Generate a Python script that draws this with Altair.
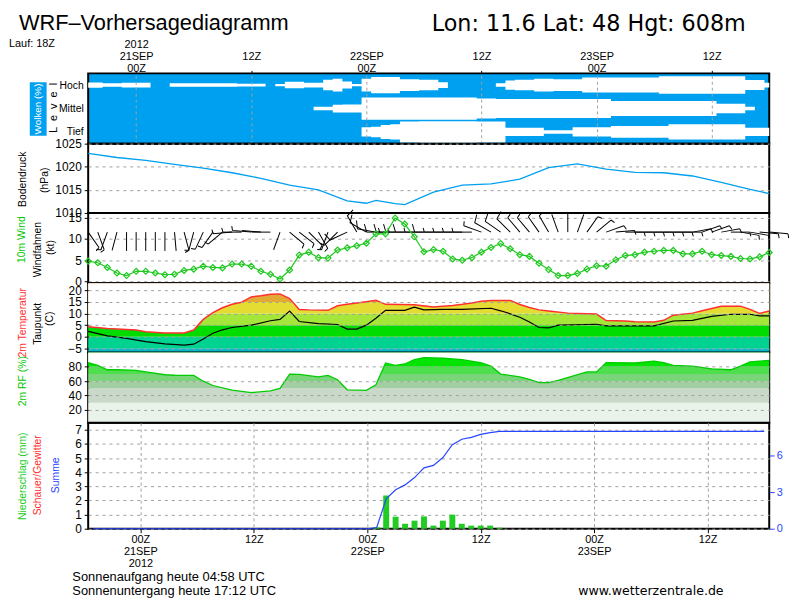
import altair as alt
import pandas as pd

# ---------------- data (hours relative to 21 SEP 2012 00Z) ----------------
HOURS = list(range(-5, 67))

CLOUD_LEVELS = ["Hoch", "Mittel", "Tief"]
CLOUD_CENTERS = [2.5, 1.5, 0.5]
CLOUD_HIGH = [0.22, 0.22, 0.15, 0.15, 0.2, 0.2, 0.2, 0, 0, 0.15, 0.15, 0.15,
              0.15, 0.15, 0.15, 0.15, 0.12, 0.12, 0.12, 0, 0.1, 0.28, 0.28, 0.2,
              0.2, 0.45, 0.55, 0.3, 0.1, 0.55, 0.7, 0.7, 0.7, 0.5, 0.5, 0.45,
              0.45, 0.25, 0, 0, 0, 0, 0, 0.15, 0.4, 0.45, 0.45, 0.55,
              0.55, 0.5, 0.5, 0.5, 0.64, 0.64, 0.64, 0.64, 0.64, 0.64, 0.64, 0.64,
              0.75, 0.75, 0.75, 0.75, 0.75, 0.75, 0.75, 0.75, 0.75, 0.43, 0.43, 0.2]
CLOUD_MID = [0, 0, 0, 0, 0, 0, 0, 0, 0, 0, 0, 0,
             0, 0, 0, 0, 0, 0, 0, 0, 0, 0, 0, 0,
             0.15, 0.15, 0.33, 0.35, 0.35, 0.95, 0.95, 0.95, 0.95, 0.95, 0.95, 0.95,
             0.95, 0.95, 0.95, 0.95, 0.95, 0.85, 0.85, 0.82, 0.82, 0.82, 0.82, 0.82,
             0.82, 0.82, 0.82, 0.82, 0.82, 0.82, 0.82, 0.65, 0.65, 0.65, 0.65, 0.65,
             0.65, 0.65, 0.65, 0.65, 0.65, 0.65, 0.4, 0.4, 0.4, 0.15, 0, 0]
CLOUD_LOW = [0, 0, 0, 0, 0, 0, 0, 0, 0, 0, 0, 0,
             0, 0, 0, 0, 0, 0, 0, 0, 0, 0, 0, 0,
             0, 0, 0, 0, 0, 0.4, 0.45, 0.6, 0.65, 0.9, 0.9, 0.92,
             0.92, 0.92, 0.92, 0.92, 0.92, 0.9, 0.9, 0.9, 0.35, 0.35, 0.35, 0.35,
             0.15, 0.15, 0.15, 0.4, 0.4, 0.4, 0.4, 0.5, 0.5, 0.5, 0.5, 0.5,
             0.5, 0.65, 0.65, 0.65, 0.65, 0.65, 0.65, 0.65, 0.65, 0.35, 0.35, 0.35]

PRESS_T = [-5, -2, 1, 4, 7, 10, 13, 16, 19, 22, 24, 25, 27, 28, 31, 34, 37, 40,
           43, 46, 49, 52, 55, 58, 61, 64, 66]
PRESS_V = [1022.9, 1022.0, 1021.4, 1020.5, 1019.7, 1018.7, 1017.5, 1016.0, 1015.0,
           1012.6, 1012.1, 1012.7, 1012.0, 1011.8, 1014.5, 1016.0, 1016.3, 1017.3,
           1019.8, 1020.6, 1019.5, 1018.8, 1018.7, 1018.0, 1016.6, 1015.1, 1014.2]

WIND_SPEED = [4.8, 4.4, 3.3, 2.0, 1.4, 2.4, 2.4, 2.0, 1.6, 1.7, 2.6, 2.9,
              3.6, 3.3, 3.2, 4.1, 4.1, 3.6, 2.4, 1.7, 0.6, 2.7, 6.2, 6.9,
              5.6, 5.5, 7.4, 7.9, 8.4, 9.0, 11.2, 11.2, 14.9, 13.5, 10.5, 7.0,
              7.5, 7.1, 5.3, 5.0, 5.6, 6.9, 8.0, 8.9, 7.7, 6.3, 5.9, 4.3,
              2.8, 1.4, 1.4, 1.9, 2.9, 3.7, 3.6, 5.1, 6.1, 6.3, 6.9, 7.1,
              7.3, 7.3, 6.5, 6.5, 7.1, 6.3, 6.1, 5.9, 5.4, 5.3, 5.8, 6.8]
WIND_DIR = [145, 160, 200, 195, 180, 180, 180, 180, 180, 175, 165, 195,
            205, 215, 230, 265, 270, 275, 275, 270, 200, 130, 128, 135,
            150, 200, 225, 245, 330, 300, 280, 270, 270, 270, 270, 270,
            270, 270, 270, 270, 270, 290, 300, 305, 315, 320, 320, 325,
            330, 340, 360, 20, 35, 50, 70, 85, 90, 90, 90, 90,
            90, 90, 90, 80, 70, 70, 80, 90, 100, 100, 95, 95]

TEMP_T = [-5, -3, 0, 1, 3, 5, 6, 7, 8, 9, 10, 11, 12, 13, 14, 15, 16, 17, 18, 20,
          21, 22, 24, 25, 26, 29, 31, 33, 34, 35, 36, 37, 39, 40, 41, 42, 43, 45, 48, 49,
          51, 52, 54, 55, 56, 58, 59, 61, 63, 64, 65, 66]
TEMP_V = [4.3, 3.6, 2.9, 2.2, 1.6, 1.6, 2.9, 7.5, 10.4, 12.5, 14.0, 14.9, 17.2, 17.7,
          18.3, 18.5, 16.5, 11.8, 11.6, 11.4, 13.4, 14.0, 15.1, 15.7, 14.0, 13.8, 12.8,
          13.5, 14.0, 14.6, 15.3, 15.7, 15.7, 13.9, 12.6, 11.6, 11.1, 10.2, 9.8, 7.0,
          6.8, 6.5, 6.4, 7.1, 9.3, 10.2, 11.2, 13.2, 13.2, 11.8, 10.1, 11.1]
DEW_T = [-5, -3, -1, 1, 3, 5, 6, 7, 8, 9, 10, 12, 14, 15, 16, 17, 19, 21, 22, 23,
         24, 25, 26, 28, 29, 30, 32, 34, 37, 38, 39, 40, 41, 42, 43, 44, 48, 49, 54, 56,
         58, 60, 62, 64, 65, 66]
DEW_V = [2.3, 0.4, -0.7, -2.1, -3.1, -3.6, -3.2, -1.0, 1.5, 3.0, 4.0, 5.0, 6.9, 7.5,
         11.1, 6.6, 5.7, 5.3, 3.3, 3.3, 5.0, 8.0, 11.4, 11.4, 12.8, 11.6, 11.8, 11.8,
         12.3, 11.2, 9.9, 8.4, 6.4, 4.0, 3.8, 5.0, 5.4, 4.7, 4.7, 6.8, 7.1, 8.8, 9.7,
         9.7, 9.0, 9.0]

RH_T = [-5, -4, -3, -2, 0, 1, 3, 4, 6, 7, 8, 10, 12, 14, 15, 16, 17, 19, 20, 21,
        22, 24, 25, 26, 27, 28, 29, 30, 32, 34, 36, 37, 38, 40, 41, 42, 43, 44, 47, 48,
        49, 52, 54, 55, 56, 58, 60, 62, 63, 64, 65, 66]
RH_V = [86, 82, 76, 76, 75, 73, 69, 68.3, 68, 60, 54, 47.5, 44, 46.5, 50, 70, 69.5,
        66, 68, 62, 48, 47.2, 55, 85.4, 82, 84, 90, 93, 92, 90, 85.4, 81, 70, 66, 62.5,
        58, 58, 61, 73, 73, 86, 85.4, 88, 86, 82, 81, 77.3, 76, 81, 87, 88, 89]

PRECIP_T = [25, 26, 27, 28, 29, 30, 31, 32, 33, 34, 35, 36, 37, 38]
PRECIP_V = [0.1, 2.35, 0.85, 0.35, 0.57, 0.87, 0.22, 0.57, 1.0, 0.35, 0.22, 0.22, 0.22, 0.07]
SUM_T = [-5, 24, 25, 26, 27, 28, 29, 30, 31, 32, 33, 34, 35, 36, 37, 38, 66]
SUM_V = [0, 0, 0.1, 2.45, 3.2, 3.6, 4.2, 5.0, 5.2, 5.85, 6.9, 7.35, 7.5, 7.75, 7.9, 8.0, 8.0]

TEMP_BAND_LO = [-6.8, -5, 0, 5, 10, 15, 20]
TEMP_BAND_HI = [-5, 0, 5, 10, 15, 20, 23.1]
TEMP_BAND_COL = ["#00B8C4", "#00D290", "#00DC00", "#A4E63A", "#E4DC32", "#E2AA34", "#E28A30"]
RH_BAND_LO = [2, 30, 50, 60, 70, 80]
RH_BAND_HI = [30, 50, 60, 70, 80, 100]
RH_BAND_COL = ["#EAF3EA", "#CAD8CA", "#A2CEA2", "#7AD47A", "#4EDE4E", "#00E400"]

# ---------------- style ----------------
W = 688
X_DOMAIN = [-5, 66]
SANS = "Liberation Sans, Arial, sans-serif"
SKY = "#00A0F0"
GREEN = "#1EC81E"
RED = "#FF3030"
SUMBLUE = "#2846FF"
GRID = "#A0A0A0"
TITLE_SIZE = 10.5
NB = "\u00a0\u00a0"
DATE_SIZE = 11
DATE_LH = 12.3

xs = alt.Scale(domain=X_DOMAIN, nice=False, zero=False)
one = pd.DataFrame({"k": [0]})


def txt(s, x, y, color="black", size=TITLE_SIZE, angle=270, font=SANS, align="center",
        baseline="middle"):
    return alt.Chart(one).mark_text(text=s, angle=angle, color=color, fontSize=size,
                                    font=font, align=align, baseline=baseline).encode(
        x=alt.value(x), y=alt.value(y))


def yaxis(values, **kw):
    return alt.Axis(values=values, title=None, grid=True, gridColor=GRID, gridDash=[3, 4],
                    tickSize=4, labelPadding=3, format="d", labelOverlap=False, **kw)


TICKS12 = [0, 12, 24, 36, 48, 60]
top_axis = alt.Axis(orient="top", values=TICKS12, title=None, grid=True, gridColor=GRID,
                    gridDash=[3, 3], tickSize=3, labelPadding=23, labelLineHeight=DATE_LH,
                    labelFontSize=DATE_SIZE,
                    labelAngle=0, zindex=1, labelBaseline="alphabetic", labelOverlap=False,
                    labelExpr="datum.value == 0 ? ['2012','21SEP','00Z'] : datum.value == 24 ? [' ','22SEP','00Z'] : datum.value == 48 ? [' ','23SEP','00Z'] : [' ',' ','12Z']")
bottom_axis = alt.Axis(orient="bottom", values=TICKS12, title=None, grid=True, gridColor=GRID,
                       gridDash=[3, 3], tickSize=4, labelPadding=0.5, labelLineHeight=DATE_LH,
                       labelFontSize=DATE_SIZE,
                       labelAngle=0, labelBaseline="top", labelOverlap=False,
                       labelExpr="datum.value == 0 ? ['00Z','21SEP','2012'] : datum.value == 24 ? ['00Z','22SEP'] : datum.value == 48 ? ['00Z','23SEP'] : '12Z'")

# ---------------- clouds ----------------
cl_rows = []
for name, center, cover in zip(CLOUD_LEVELS, CLOUD_CENTERS, [CLOUD_HIGH, CLOUD_MID, CLOUD_LOW]):
    for t, c in zip(HOURS, cover):
        cl_rows.append({"t": t, "level": name, "lo": center - c / 2, "hi": center + c / 2})
cloud_df = pd.DataFrame(cl_rows)

cloud_area = alt.Chart(cloud_df).mark_area(color="white", opacity=1, interpolate="step").encode(
    x=alt.X("t:Q", scale=xs, axis=top_axis),
    y=alt.Y("lo:Q", scale=alt.Scale(domain=[0, 3], nice=False, zero=False),
            axis=alt.Axis(values=CLOUD_CENTERS, title=None, grid=False, ticks=False,
                          labelPadding=5, labelFontSize=10.5, labelOverlap=False,
                          labelExpr="datum.value > 2 ? 'Hoch' : datum.value > 1 ? 'Mittel' : 'Tief'")),
    y2="hi:Q",
    detail="level:N",
)
wolken_box = alt.Chart(one).mark_rect(color=SKY).encode(
    x=alt.value(-59), x2=alt.value(-42), y=alt.value(9), y2=alt.value(63))

clouds = alt.layer(
    cloud_area, wolken_box,
    txt("Wolken (%)", -50.5, 36, color="white", size=10),
    txt(NB.join(["L", "e", "v", "e", "l"]), -35, 35, size=11),
    txt("WRF–Vorhersagediagramm", -70, -61, size=22, angle=0, align="left",
        baseline="top"),
    txt("Lon: 11.6 Lat: 48 Hgt: 608m", 347, -61, size=22.5, angle=0,
        font="DejaVu Sans, sans-serif", align="left", baseline="top"),
    txt("Lauf: 18Z", -80, -27, size=11, angle=0, align="left",
        baseline="alphabetic"),
).properties(width=W, height=71,
             view=alt.ViewBackground(fill=SKY, stroke="black", strokeWidth=2))

# ---------------- pressure ----------------
press_df = pd.DataFrame({"t": PRESS_T, "p": PRESS_V})
press_line = alt.Chart(press_df).mark_line(color=SKY, strokeWidth=1.3).encode(
    x=alt.X("t:Q", scale=xs, axis=None),
    y=alt.Y("p:Q", scale=alt.Scale(domain=[1010, 1025], nice=False, zero=False),
            axis=yaxis([1010, 1015, 1020, 1025])),
)
press = alt.layer(
    press_line,
    txt("Bodendruck", -66, 36),
    txt("(hPa)", -44, 37),
).properties(width=W, height=70)

# ---------------- wind ----------------
BARB_PATHS = {
    "calm": "M0,0L0,-2",
    "half": "M0,0L0,-2M0,-2L0.45,-2.12",
    "full": "M0,0L0,-2L0.85,-2.25",
    "fullhalf": "M0,0L0,-2L0.85,-2.25M0,-1.65L0.45,-1.78",
}


def barb_cat(s):
    if s < 2.5:
        return "calm"
    if s < 7.5:
        return "half"
    if s < 12.5:
        return "full"
    return "fullhalf"


wind_df = pd.DataFrame({"t": HOURS, "s": WIND_SPEED, "d": WIND_DIR})
wind_df["cat"] = [barb_cat(s) for s in WIND_SPEED]
wind_ys = alt.Scale(domain=[-0.4, 16.1], nice=False, zero=False)
wind_axis = yaxis([0, 5, 10, 15])

barbs = alt.Chart(wind_df).mark_point(filled=False, color="black", strokeWidth=1,
                                      size=361, opacity=1).encode(
    x=alt.X("t:Q", scale=xs, axis=None),
    y=alt.YDatum(11.6, scale=wind_ys, axis=wind_axis),
    shape=alt.Shape("cat:N", scale=alt.Scale(domain=list(BARB_PATHS.keys()),
                                             range=list(BARB_PATHS.values())), legend=None),
    angle=alt.Angle("d:Q", scale=None),
)
wind_line = alt.Chart(wind_df).mark_line(color=GREEN, strokeWidth=1.2).encode(
    x=alt.X("t:Q", scale=xs, axis=None),
    y=alt.Y("s:Q", scale=wind_ys, axis=wind_axis),
)
wind_pts = alt.Chart(wind_df).mark_point(shape="diamond", filled=False, color=GREEN,
                                         size=36, strokeWidth=1.2, opacity=1).encode(
    x=alt.X("t:Q", scale=xs, axis=None),
    y=alt.Y("s:Q", scale=wind_ys, axis=wind_axis),
)
wind = alt.layer(
    barbs, wind_line, wind_pts,
    txt("10m Wind", -67, 27, color="#00C800"),
    txt("Windfahnen", -51, 37),
    txt("(kt)", -38, 35),
).properties(width=W, height=71)

# ---------------- temperature ----------------
t_ys = alt.Scale(domain=[-6.8, 23.1], nice=False, zero=False)
t_axis = yaxis([-5, 0, 5, 10, 15, 20], zindex=1)
tband_df = pd.DataFrame({"lo": TEMP_BAND_LO, "hi": TEMP_BAND_HI, "col": TEMP_BAND_COL})
tband_df["x0"] = X_DOMAIN[0]
tband_df["x1"] = X_DOMAIN[1]
temp_df = pd.DataFrame({"t": TEMP_T, "v": TEMP_V})
temp_df["top"] = 23.1
dew_df = pd.DataFrame({"t": DEW_T, "v": DEW_V})

t_bands = alt.Chart(tband_df).mark_rect(opacity=1).encode(
    x=alt.X("x0:Q", scale=xs, axis=None), x2="x1:Q",
    y=alt.Y("lo:Q", scale=t_ys, axis=t_axis), y2="hi:Q",
    color=alt.Color("col:N", scale=None),
)
t_white = alt.Chart(temp_df).mark_area(color="white", opacity=1).encode(
    x=alt.X("t:Q", scale=xs, axis=None), y=alt.Y("v:Q", scale=t_ys, axis=t_axis), y2="top:Q")
t_line = alt.Chart(temp_df).mark_line(color=RED, strokeWidth=1.5).encode(
    x=alt.X("t:Q", scale=xs, axis=None), y=alt.Y("v:Q", scale=t_ys, axis=t_axis))
d_line = alt.Chart(dew_df).mark_line(color="black", strokeWidth=1.2).encode(
    x=alt.X("t:Q", scale=xs, axis=None), y=alt.Y("v:Q", scale=t_ys, axis=t_axis))
temp = alt.layer(
    t_bands, t_white, t_line, d_line,
    txt("2m Temperatur", -66, 40, color=RED),
    txt("Taupunkt", -51, 41),
    txt("(C)", -39, 36),
).properties(width=W, height=70)

# ---------------- relative humidity ----------------
rh_ys = alt.Scale(domain=[2, 100], nice=False, zero=False)
rh_axis = yaxis([20, 40, 60, 80], zindex=1)
rband_df = pd.DataFrame({"lo": RH_BAND_LO, "hi": RH_BAND_HI, "col": RH_BAND_COL})
rband_df["x0"] = X_DOMAIN[0]
rband_df["x1"] = X_DOMAIN[1]
rh_df = pd.DataFrame({"t": RH_T, "v": RH_V})
rh_df["top"] = 100

r_bands = alt.Chart(rband_df).mark_rect(opacity=1).encode(
    x=alt.X("x0:Q", scale=xs, axis=None), x2="x1:Q",
    y=alt.Y("lo:Q", scale=rh_ys, axis=rh_axis), y2="hi:Q",
    color=alt.Color("col:N", scale=None),
)
r_white = alt.Chart(rh_df).mark_area(color="white", opacity=1).encode(
    x=alt.X("t:Q", scale=xs, axis=None), y=alt.Y("v:Q", scale=rh_ys, axis=rh_axis), y2="top:Q")
r_line = alt.Chart(rh_df).mark_line(color="#00CC00", strokeWidth=1.3).encode(
    x=alt.X("t:Q", scale=xs, axis=None), y=alt.Y("v:Q", scale=rh_ys, axis=rh_axis))
rh = alt.layer(
    r_bands, r_white, r_line,
    txt("2m RF (%)", -66, 29, color="#00C800"),
).properties(width=W, height=71)

# ---------------- precipitation ----------------
precip_df = pd.DataFrame({"t": PRECIP_T, "v": PRECIP_V})
sum_df = pd.DataFrame({"t": SUM_T, "v": SUM_V})
p_bars = alt.Chart(precip_df).mark_bar(color="#22CC22", size=6).encode(
    x=alt.X("t:Q", scale=xs, axis=bottom_axis),
    y=alt.Y("v:Q", scale=alt.Scale(domain=[0, 7.5], nice=False, zero=False),
            axis=yaxis([0, 1, 2, 3, 4, 5, 6, 7])),
)
p_sum = alt.Chart(sum_df).mark_line(color=SUMBLUE, strokeWidth=1.2).encode(
    x=alt.X("t:Q", scale=xs, axis=bottom_axis),
    y=alt.Y("v:Q", scale=alt.Scale(domain=[0, 8.7], nice=False, zero=False),
            axis=alt.Axis(orient="right", values=[0, 3, 6], title=None, grid=False,
                          labelColor=SUMBLUE, tickColor=SUMBLUE, tickSize=5,
                          labelPadding=2, labelFontSize=11, format="d",
                          labelOverlap=False)),
)
precip = alt.layer(
    p_bars, p_sum,
    txt("Niederschlag (mm)", -66, 54, color="#22CC22"),
    txt("Schauer/Gewitter", -50.5, 53, color=RED),
    txt("Summe", -32, 53, color=SUMBLUE),
    txt("Sonnenaufgang heute 04:58 UTC", -16, 159.7, size=13, angle=0,
        align="left", baseline="alphabetic"),
    txt("Sonnenuntergang heute 17:12 UTC", -16, 174.3, size=13, angle=0,
        align="left", baseline="alphabetic"),
    txt("www.wetterzentrale.de", 495, 174.3, size=12.7, angle=0,
        font="DejaVu Sans, sans-serif", align="left", baseline="alphabetic"),
).resolve_scale(y="independent").properties(width=W, height=107)

chart = alt.vconcat(clouds, press, wind, temp, rh, precip, spacing=0, bounds="flush").properties(
    padding={"left": 0, "top": 0, "right": 0, "bottom": 0}, background="white"
).configure_view(stroke="black", strokeWidth=2).configure_axis(
    domain=False, labelFont=SANS, labelFontSize=12, labelColor="black", tickColor="black",
    titleFont=SANS,
)

chart.save("out.html", embed_options={"renderer": "svg", "actions": False})
